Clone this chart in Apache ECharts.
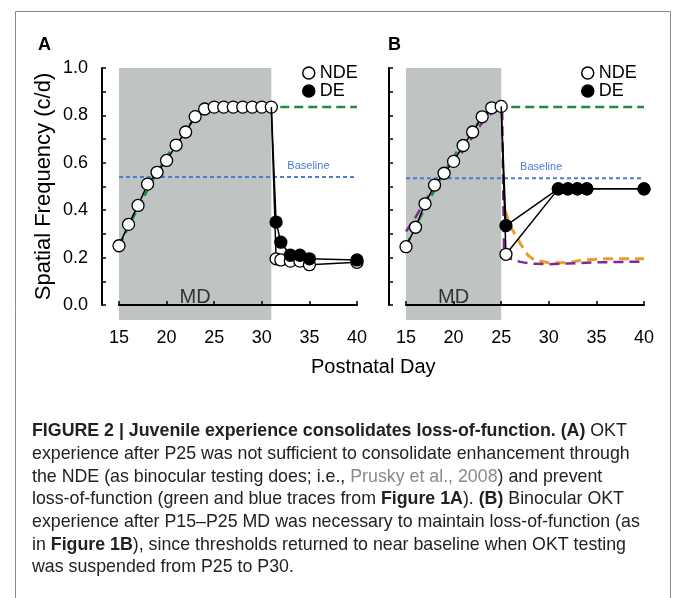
<!DOCTYPE html>
<html lang="en">
  <head>
    <meta charset="UTF-8" />
    <title>Figure 2</title>
    <script src="https://cdn.jsdelivr.net/npm/echarts@6/dist/echarts.min.js"></script>
    <style>
      html, body { margin: 0; padding: 0; background: #fff; }
    </style>
  </head>

  <body>
    <div id="main" style="width: 673px; height: 598px"></div>
    <script type="text/javascript">
      // ---- data ----
      const xTicks = [15, 20, 25, 30, 35, 40];
      const mdA = [15, 31];
      const mdB = [15, 25];

      // panel A
      const ndeA = [
        [15, 0.25], [16, 0.34], [17, 0.42], [18, 0.51], [19, 0.56], [20, 0.61],
        [21, 0.675], [22, 0.73], [23, 0.795], [24, 0.827], [25, 0.835], [26, 0.835],
        [27, 0.835], [28, 0.835], [29, 0.835], [30, 0.835], [31, 0.835],
        [31.5, 0.195], [32, 0.19], [33, 0.185], [34, 0.185], [35, 0.17], [40, 0.18],
      ];
      const deA = [[31, 0.835], [31.5, 0.35], [32, 0.265], [33, 0.21], [34, 0.21], [35, 0.195], [40, 0.19]];

      // panel B
      const ndeB = [
        [15, 0.246], [16, 0.328], [17, 0.427], [18, 0.506], [19, 0.556], [20, 0.606],
        [21, 0.673], [22, 0.73], [23, 0.794], [24, 0.832], [25, 0.838],
        [25.5, 0.214], [31, 0.49], [32, 0.49], [33, 0.49], [34, 0.49], [40, 0.49],
      ];
      const deB = [[25, 0.838], [25.5, 0.335], [31, 0.49], [32, 0.49], [33, 0.49], [34, 0.49], [40, 0.49]];

      // reference traces (Figure 1)
      const greenTrace = [[15, 0.25], [17, 0.41], [19, 0.56], [21, 0.69], [23, 0.79], [24.5, 0.835], [40, 0.835]];
      const baselineA = [[15, 0.54], [40, 0.54]];
      const baselineB = [[15, 0.535], [40, 0.535]];
      const purpleTrace = [
        [15, 0.31], [16, 0.37], [17, 0.44], [18, 0.5], [19, 0.55], [20, 0.6], [21, 0.65],
        [22, 0.71], [23, 0.77], [24, 0.81], [25.1, 0.83], [25.3, 0.21], [26, 0.195],
        [27, 0.182], [28, 0.175], [30, 0.172], [32, 0.175], [35, 0.18], [40, 0.183],
      ];
      const orangeTrace = [
        [25.4, 0.4], [26, 0.33], [27, 0.26], [27.8, 0.21], [28.5, 0.19], [30, 0.178],
        [32, 0.178], [33.5, 0.19], [36, 0.195], [40, 0.195],
      ];

      const FONT = "Liberation Sans, Arial, Helvetica, sans-serif";
      const GRAY = "#bfc3c1";

      function makeGrid(left) {
        return { left: left, top: 68, width: 238, height: 237 };
      }

      function makeX(i) {
        return {
          type: "value",
          gridIndex: i,
          min: 15,
          max: 40,
          interval: 5,
          offset: 17,
          axisLine: { lineStyle: { color: "#000", width: 2 } },
          axisTick: { inside: true, length: 4, lineStyle: { color: "#000", width: 1.5 } },
          axisLabel: { color: "#000", fontSize: 18, fontFamily: FONT, margin: 7 },
          splitLine: { show: false },
        };
      }

      function makeY(i, showLabels) {
        return {
          type: "value",
          gridIndex: i,
          min: 0,
          max: 1,
          interval: 0.2,
          offset: 17,
          name: showLabels ? "Spatial Frequency (c/d)" : "",
          nameLocation: "middle",
          nameGap: 47,
          nameTextStyle: { color: "#000", fontSize: 22, fontFamily: FONT },
          axisLine: { show: true, lineStyle: { color: "#000", width: 2 } },
          axisTick: { show: true, inside: true, length: 4, lineStyle: { color: "#000", width: 1.5 } },
          minorTick: { show: true, splitNumber: 2, length: 4, lineStyle: { color: "#000", width: 1.5 } },
          axisLabel: {
            show: showLabels,
            color: "#000",
            fontSize: 18,
            fontFamily: FONT,
            margin: 14,
            formatter: (v) => v.toFixed(1),
          },
          splitLine: { show: false },
        };
      }

      function mdSeries(i, range) {
        return {
          type: "custom",
          xAxisIndex: i,
          yAxisIndex: i,
          silent: true,
          z: 0,
          data: [range],
          renderItem: function (params, api) {
            const p0 = api.coord([api.value(0), 1]);
            const p1 = api.coord([api.value(1), 0]);
            return {
              type: "group",
              children: [
                {
                  type: "rect",
                  shape: { x: p0[0], y: p0[1], width: p1[0] - p0[0], height: p1[1] - p0[1] + 15 },
                  style: { fill: GRAY },
                },
                {
                  type: "text",
                  style: {
                    text: "MD",
                    x: (p0[0] + p1[0]) / 2,
                    y: p1[1] - 8,
                    align: "center",
                    verticalAlign: "middle",
                    font: "20px " + FONT,
                    fill: "#333",
                  },
                },
              ],
            };
          },
        };
      }

      function dashed(i, data, color, width, dash, z) {
        return {
          type: "line",
          xAxisIndex: i,
          yAxisIndex: i,
          data: data,
          symbol: "none",
          silent: true,
          z: z || 2,
          lineStyle: { color: color, width: width, type: dash },
          animation: false,
        };
      }

      function baseline(i, data, labelX) {
        const s = dashed(i, data, "#4a7fd0", 2, [4, 3], 2);
        s.markPoint = {
          symbol: "circle",
          symbolSize: 0,
          silent: true,
          data: [{ coord: [labelX, data[0][1]] }],
          label: {
            show: true,
            formatter: "Baseline",
            position: "top",
            distance: 6,
            color: "#4a7fd0",
            fontSize: 11,
            fontFamily: FONT,
          },
        };
        return s;
      }

      function eyeSeries(i, name, data, filled, hideFirst) {
        return {
          type: "line",
          name: name,
          xAxisIndex: i,
          yAxisIndex: i,
          data: data.map((d, k) =>
            hideFirst && k === 0 ? { value: d, symbol: "none" } : { value: d }
          ),
          symbol: "circle",
          symbolSize: 12,
          z: filled ? 6 : 5,
          lineStyle: { color: "#000", width: 1.5 },
          itemStyle: { color: filled ? "#000" : "#fff", borderColor: "#000", borderWidth: 1.3 },
          animation: false,
        };
      }

      function legendAt(left) {
        return {
          orient: "vertical",
          left: left,
          top: 59,
          itemGap: 0,
          itemWidth: 12,
          itemHeight: 12,
          textStyle: { color: "#000", fontSize: 18, fontFamily: FONT, padding: [0, 0, 0, 0] },
          selectedMode: false,
          data: [
            { name: "NDE", icon: "circle", itemStyle: { color: "#fff", borderColor: "#000", borderWidth: 1.5 } },
            { name: "DE", icon: "circle", itemStyle: { color: "#000", borderColor: "#000", borderWidth: 1.5 } },
          ],
        };
      }

      const caption =
        "{b|FIGURE 2 | Juvenile experience consolidates loss-of-function. (A)} OKT\n" +
        "experience after P25 was not sufficient to consolidate enhancement through\n" +
        "the NDE (as binocular testing does; i.e., {g|Prusky et al., 2008}) and prevent\n" +
        "loss-of-function (green and blue traces from {b|Figure 1A}). {b|(B)} Binocular OKT\n" +
        "experience after P15–P25 MD was necessary to maintain loss-of-function (as\n" +
        "in {b|Figure 1B}), since thresholds returned to near baseline when OKT testing\n" +
        "was suspended from P25 to P30.";
      const CAP = 17.8;

      const chart = echarts.init(document.getElementById("main"));
      const option = {
        backgroundColor: "#fff",
        animation: false,
        title: [
          { text: "A", left: 33, top: 31, textStyle: { fontSize: 18, fontWeight: "bold", fontFamily: FONT, color: "#000" } },
          { text: "B", left: 383, top: 31, textStyle: { fontSize: 18, fontWeight: "bold", fontFamily: FONT, color: "#000" } },
        ],
        legend: [legendAt(297), legendAt(576)],
        grid: [makeGrid(119), makeGrid(406)],
        xAxis: [makeX(0), makeX(1)],
        yAxis: [makeY(0, true), makeY(1, false)],
        graphic: [
          {
            type: "rect",
            shape: { x: 15.5, y: 11.5, width: 655, height: 600 },
            style: { fill: "none", stroke: "#8a8a8a", lineWidth: 1 },
            silent: true,
          },
          {
            type: "text",
            left: 311,
            top: 357,
            style: { text: "Postnatal Day", font: "20px " + FONT, fill: "#000" },
            silent: true,
          },
          {
            type: "text",
            left: 32,
            top: 420,
            style: {
              text: caption,
              font: CAP + "px " + FONT,
              fill: "#222",
              lineHeight: 22.7,
              rich: {
                b: { fontWeight: "bold", fontSize: CAP, fontFamily: FONT, fill: "#222", lineHeight: 22.7 },
                g: { fontSize: CAP, fontFamily: FONT, fill: "#8a8a8a", lineHeight: 22.7 },
              },
            },
            silent: true,
          },
        ],
        series: [
          mdSeries(0, mdA),
          mdSeries(1, mdB),
          dashed(0, greenTrace, "#1e8c3f", 2.5, [9, 5], 3),
          baseline(0, baselineA, 34.9),
          dashed(1, orangeTrace, "#f39a2e", 3, [10, 6], 2),
          dashed(1, purpleTrace, "#7d2c8e", 2.5, [10, 6], 3),
          dashed(1, greenTrace, "#1e8c3f", 2.5, [9, 5], 3),
          baseline(1, baselineB, 29.2),
          eyeSeries(0, "NDE", ndeA, false, false),
          eyeSeries(0, "DE", deA, true, true),
          eyeSeries(1, "NDE", ndeB, false, false),
          eyeSeries(1, "DE", deB, true, true),
        ],
      };
      chart.setOption(option);
    </script>
  </body>
</html>
